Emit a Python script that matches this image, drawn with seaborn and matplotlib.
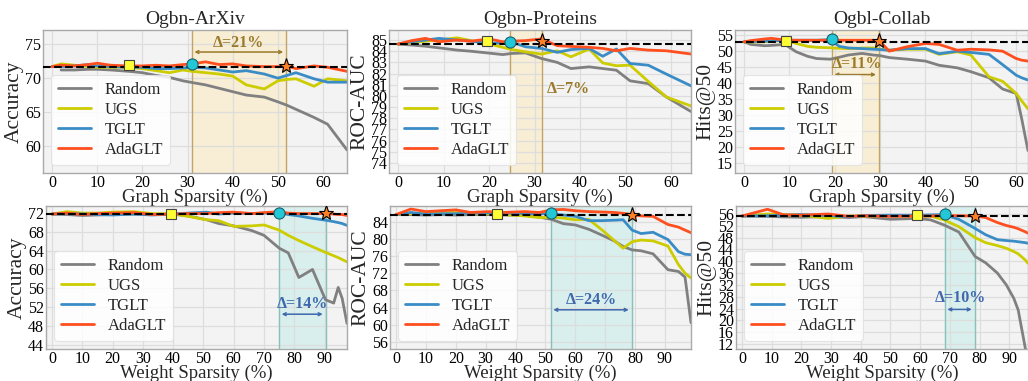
import numpy as np
import pandas as pd
import matplotlib
matplotlib.use('Agg')
import matplotlib.pyplot as plt
import seaborn as sns

methods = ['Random', 'UGS', 'TGLT', 'AdaGLT']
colors = ['#808080', '#cccc00', '#3a8cc6', '#ff4f1f']

titles = ['Ogbn-ArXiv', 'Ogbn-Proteins', 'Ogbl-Collab']
ylabels = ['Accuracy', 'ROC-AUC', 'Hits@50']

# --- graph sparsity (top row) ---
arxiv_gs_x = [0, 2, 5, 8, 10, 13, 17, 20, 23, 26, 29, 31, 34, 37, 40, 43, 47, 50, 52, 54, 58, 61, 65.3]
arxiv_gs_random = [np.nan, 71.2, 71.2, 71.3, 71.3, 71.2, 71.0, 70.8, 70.4, 70.1, 69.6, 69.35, 69.0, 68.5, 68.0, 67.5, 67.2, 66.5, 66.0, 65.4, 64.2, 63.2, 59.4]
arxiv_gs_ugs = [71.7, 72.1, 71.9, 71.7, 71.6, 71.6, 71.6, 71.4, 71.1, 70.8, 71.2, 71.0, 70.8, 70.6, 70.3, 69.0, 68.4, 69.6, 69.8, 69.9, 68.8, 69.9, 69.6]
arxiv_gs_tglt = [71.7, 71.7, 71.8, 72.0, 71.8, 71.7, 71.6, 71.6, 71.4, 71.4, 71.5, 71.6, 71.5, 71.2, 70.9, 71.1, 70.6, 70.0, 70.4, 70.8, 69.9, 69.4, 69.4]
arxiv_gs_ada = [71.7, 71.9, 71.8, 72.0, 72.2, 71.9, 71.8, 71.8, 71.9, 71.8, 72.0, 72.1, 72.4, 72.0, 72.1, 71.8, 71.7, 71.7, 71.8, 71.4, 71.8, 71.6, 71.0]
arxiv_gs_best_x = [17, 30.9, 51.8]
arxiv_gs_best_y = [72.0, 72.05, 71.8]

prot_gs_x = [0, 3, 6, 9, 13, 16, 20, 23, 25, 28, 31.5, 35, 38, 42, 45, 48, 51, 55, 59, 64.4]
prot_gs_random = [84.64, 84.55, 84.45, 84.3, 84.1, 84.0, 83.83, 83.7, 83.8, 83.85, 83.35, 83.0, 82.45, 82.6, 82.45, 82.3, 81.35, 81.1, 79.9, 78.6]
prot_gs_ugs = [84.64, 84.75, 84.9, 85.0, 85.2, 84.95, 84.65, 84.35, 84.15, 83.95, 83.74, 84.04, 83.5, 84.2, 82.95, 82.7, 82.75, 81.3, 79.9, 79.1]
prot_gs_tglt = [84.64, 84.85, 85.0, 85.15, 85.0, 84.9, 84.7, 84.75, 84.8, 84.4, 84.25, 83.9, 84.15, 84.25, 83.55, 84.2, 82.9, 82.75, 81.95, 80.9]
prot_gs_ada = [84.64, 84.95, 85.15, 84.85, 85.0, 84.9, 85.1, 84.85, 84.9, 84.95, 85.1, 84.5, 84.43, 84.35, 84.25, 84.04, 84.25, 84.1, 84.04, 83.75]
prot_gs_best_x = [19.6, 24.6, 31.7]
prot_gs_best_y = [84.88, 84.85, 84.88]

coll_gs_x = [0, 1.5, 4.5, 6, 9, 11.5, 14, 16, 19, 21, 23, 26, 28.5, 30, 32, 36, 40, 43, 47, 50, 54, 57, 60, 61.2, 62.6]
coll_gs_random = [52.9, 52.1, 51.7, 51.8, 52.1, 49.8, 48.4, 47.7, 47.5, 48.1, 48.8, 49.3, 48.8, 48.6, 48.0, 47.5, 46.9, 45.6, 44.8, 43.6, 41.7, 38.2, 36.8, 29.0, 19.0]
coll_gs_ugs = [52.9, 52.9, 52.9, 53.1, 53.4, 52.4, 51.5, 51.2, 51.05, 50.9, 50.8, 50.95, 51.0, 50.6, 50.3, 50.6, 50.6, 49.0, 49.8, 48.8, 42.0, 40.6, 36.8, 34.5, 32.0]
coll_gs_tglt = [52.9, 53.0, 53.1, 53.2, 53.4, 53.4, 53.4, 53.4, 53.6, 51.5, 51.0, 50.8, 50.6, 50.5, 50.3, 50.8, 50.8, 49.2, 50.0, 49.6, 49.0, 45.8, 42.5, 41.7, 41.0]
coll_gs_ada = [52.9, 53.3, 53.8, 54.0, 53.5, 53.4, 53.4, 53.4, 53.4, 53.4, 53.4, 53.4, 53.4, 53.0, 50.0, 51.4, 52.4, 52.1, 50.3, 50.6, 50.4, 50.0, 47.7, 47.2, 46.9]
coll_gs_best_x = [9.2, 19.3, 29.7]
coll_gs_best_y = [53.2, 53.75, 53.2]

# --- weight sparsity (bottom row) ---
arxiv_ws_x = [0, 5, 10, 15, 20, 27, 33, 40, 45, 51, 55, 60, 66, 70, 75, 78, 81.5, 86, 90.3, 93, 94.5, 95.8, 97.4]
arxiv_ws_random = [71.7, 71.6, 71.4, 71.5, 71.6, 71.7, 71.6, 71.7, 71.3, 70.5, 69.7, 69.2, 68.2, 67.2, 64.5, 63.5, 58.3, 60.0, 53.6, 52.9, 56.2, 53.9, 48.6]
arxiv_ws_ugs = [71.7, 72.2, 71.9, 71.9, 72.1, 72.2, 71.8, 71.7, 71.2, 70.5, 70.3, 69.1, 69.2, 69.4, 68.3, 67.2, 66.1, 64.8, 63.6, 62.9, 62.5, 62.1, 61.6]
arxiv_ws_tglt = [71.7, 71.8, 71.7, 71.6, 71.5, 71.7, 71.5, 71.7, 71.9, 72.1, 71.7, 71.9, 71.8, 71.9, 72.0, 71.6, 71.3, 70.8, 70.4, 70.1, 69.9, 69.7, 69.3]
arxiv_ws_ada = [71.7, 71.9, 71.6, 71.8, 71.9, 72.0, 71.6, 71.7, 71.8, 71.8, 72.0, 72.1, 71.8, 72.0, 72.2, 71.9, 71.8, 71.8, 71.8, 71.7, 71.6, 71.6, 71.4]
arxiv_ws_best_x = [39.4, 74.9, 90.3]
arxiv_ws_best_y = [71.7, 72.0, 71.9]

prot_ws_x = [0, 5, 10, 15, 20, 25, 31, 36, 43, 48, 52, 56, 60, 64.5, 69, 73, 76, 79, 82, 86, 91, 94.5, 96.7, 98.7]
prot_ws_random = [85.6, 85.6, 85.5, 85.6, 85.5, 85.6, 85.6, 85.5, 85.5, 85.0, 84.5, 83.5, 83.2, 82.2, 80.8, 79.5, 78.2, 77.4, 77.2, 76.5, 72.8, 72.4, 71.1, 60.5]
prot_ws_ugs = [85.6, 85.8, 85.9, 86.0, 86.1, 85.8, 85.8, 85.6, 85.3, 84.9, 85.0, 84.8, 84.4, 84.5, 82.0, 79.6, 77.8, 79.3, 79.7, 79.5, 78.3, 74.0, 72.0, 70.9]
prot_ws_tglt = [85.6, 86.1, 85.7, 85.8, 85.8, 85.9, 86.0, 86.0, 85.9, 85.8, 85.8, 85.5, 85.2, 84.2, 84.2, 84.3, 84.4, 82.0, 81.2, 81.5, 79.8, 77.0, 76.4, 76.3]
prot_ws_ada = [85.6, 86.9, 86.3, 86.5, 86.7, 86.1, 86.3, 86.1, 86.3, 86.1, 86.7, 86.8, 86.5, 86.3, 86.2, 86.1, 85.9, 85.6, 85.3, 85.2, 83.3, 82.7, 82.0, 81.4]
prot_ws_best_x = [33.7, 51.7, 78.8]
prot_ws_best_y = [85.8, 85.9, 85.6]

coll_ws_x = [0, 8.6, 14, 20, 29, 36, 41, 50, 59, 63.5, 68, 73, 78.5, 82, 86, 89, 91.5, 93, 95.3, 96.3]
coll_ws_random = [55.3, 55.2, 55.0, 54.9, 55.1, 54.8, 55.1, 54.2, 54.5, 54.0, 52.3, 49.9, 41.6, 39.5, 36.0, 32.0, 27.5, 23.5, 11.1, 5.0]
coll_ws_ugs = [55.3, 56.0, 55.8, 55.6, 54.5, 55.3, 55.3, 55.4, 55.3, 55.3, 54.0, 51.7, 48.0, 46.3, 45.3, 44.4, 43.3, 42.5, 40.5, 39.3]
coll_ws_tglt = [55.3, 55.4, 55.6, 55.8, 55.5, 55.0, 55.5, 55.6, 55.6, 55.7, 55.8, 54.2, 51.1, 49.0, 47.3, 47.0, 46.8, 46.6, 46.3, 46.1]
coll_ws_ada = [55.3, 57.6, 55.7, 55.6, 56.0, 55.2, 55.4, 55.2, 55.3, 55.3, 55.5, 55.4, 55.3, 54.8, 53.1, 52.1, 51.5, 51.0, 50.0, 49.5]
coll_ws_best_x = [58.9, 68.2, 78.3]
coll_ws_best_y = [55.7, 56.0, 55.3]

baselines = [71.7, 84.64, 52.9, 71.8, 85.6, 55.3]
delta_labels = ['Δ=21%', 'Δ=7%', 'Δ=11%', 'Δ=14%', 'Δ=24%', 'Δ=10%']

sns.set_theme(style='whitegrid', rc={
    'axes.facecolor': '#f3f3f3', 'grid.color': '#dddddd', 'axes.edgecolor': '#aaaaaa',
    'axes.linewidth': 1.0, 'grid.linewidth': 0.9})
plt.rcParams['font.family'] = ['Liberation Serif', 'DejaVu Serif']

fig = plt.figure(figsize=(10.28, 3.81), dpi=100)
W, H = 1028, 381

def px_axes(l, t, r, b):
    return fig.add_axes([l / W, 1 - b / H, (r - l) / W, (b - t) / H])

boxes = [(43, 30, 347, 173), (389, 30, 691, 173), (735, 30, 1028, 173),
         (46, 206, 347, 349), (390, 206, 691, 349), (736, 206, 1028, 349)]

panels = [
    (arxiv_gs_x, [arxiv_gs_random, arxiv_gs_ugs, arxiv_gs_tglt, arxiv_gs_ada], arxiv_gs_best_x, arxiv_gs_best_y),
    (prot_gs_x, [prot_gs_random, prot_gs_ugs, prot_gs_tglt, prot_gs_ada], prot_gs_best_x, prot_gs_best_y),
    (coll_gs_x, [coll_gs_random, coll_gs_ugs, coll_gs_tglt, coll_gs_ada], coll_gs_best_x, coll_gs_best_y),
    (arxiv_ws_x, [arxiv_ws_random, arxiv_ws_ugs, arxiv_ws_tglt, arxiv_ws_ada], arxiv_ws_best_x, arxiv_ws_best_y),
    (prot_ws_x, [prot_ws_random, prot_ws_ugs, prot_ws_tglt, prot_ws_ada], prot_ws_best_x, prot_ws_best_y),
    (coll_ws_x, [coll_ws_random, coll_ws_ugs, coll_ws_tglt, coll_ws_ada], coll_ws_best_x, coll_ws_best_y),
]

ylims = [(56, 77.1), (73.1, 85.9), (12, 56.6), (43.2, 73.4), (54.4, 87.6), (10.3, 58.7)]
yticks = [np.arange(60, 76, 5), np.arange(74, 86, 1), np.arange(15, 56, 5),
          np.arange(44, 73, 4), np.arange(56, 85, 4), np.arange(12, 57, 4)]
# label placement: (text x, text y, arrow y or None, ha)
label_pos = [(41.3, 75.2, 73.85, 'center'), (32.6, 80.6, None, 'left'), (24.8, 45.9, 42.7, 'center'),
             (82.6, 52.7, 50.55, 'center'), (65.5, 65.8, 63.5, 'center'), (73.5, 27.5, 23.7, 'center')]

for i, (x, series, bx, by) in enumerate(panels):
    ax = px_axes(*boxes[i])
    top = i < 3
    df = pd.DataFrame({'x': x})
    for m, s in zip(methods, series):
        df[m] = s
    long = df.melt(id_vars='x', var_name='method', value_name='y').dropna()
    sns.lineplot(data=long, x='x', y='y', hue='method', hue_order=methods,
                 palette=colors, linewidth=2, estimator=None, sort=False, ax=ax)

    ax.axhline(baselines[i], color='black', linestyle='--', linewidth=1.5, zorder=4)

    span_fc = '#f8eed6' if top else '#d8efed'
    span_ec = '#c2a466' if top else '#8bbfba'
    txt_c = '#9a7a2a' if top else '#3f68ad'
    ax.axvspan(bx[1], bx[2], color=span_fc, zorder=0.5)
    ax.axvline(bx[1], color=span_ec, lw=1.0, zorder=0.6)
    ax.axvline(bx[2], color=span_ec, lw=1.0, zorder=0.6)

    ax.plot(bx[0], by[0], marker='s', ms=7, mfc='#ffff33', mec='#444444', mew=0.8, zorder=6, ls='none')
    ax.plot(bx[1], by[1], marker='o', ms=8, mfc='#22c8d6', mec='#1b5f6e', mew=0.8, zorder=6, ls='none')
    ax.plot(bx[2], by[2], marker='*', ms=11, mfc='#ff7f27', mec='black', mew=0.8, zorder=6, ls='none')

    tx, ty, ay, ha = label_pos[i]
    ax.text(tx, ty, delta_labels[i], color=txt_c, fontsize=11.5, fontweight='bold', ha=ha, va='center', zorder=7)
    if ay is not None:
        ax.annotate('', xy=(bx[1], ay), xytext=(bx[2], ay),
                    arrowprops=dict(arrowstyle='<->', color=txt_c, lw=1.1, mutation_scale=5), zorder=7)

    ax.set_xlim(-2, x[-1])
    ax.set_ylim(*ylims[i])
    ax.set_yticks(yticks[i])
    ax.set_xticks(np.arange(0, 61 if top else 91, 10))
    ax.tick_params(axis='both', length=0, pad=1.5, labelsize=11.5, colors='black')
    ax.set_ylabel(ylabels[i % 3], fontsize=15.5, labelpad=1)
    ax.set_xlabel('Graph Sparsity (%)' if top else 'Weight Sparsity (%)', fontsize=13.5, labelpad=-1.5)
    if top:
        ax.set_title(titles[i], fontsize=14, pad=4)

    leg = ax.legend(loc='lower left', fontsize=12, handlelength=2.0, labelspacing=0.25,
                    borderpad=0.4, frameon=True, framealpha=0.85, facecolor='white', edgecolor='#e0e0e0')
    leg.get_frame().set_linewidth(0.8)
    leg.set_zorder(8)

fig.savefig('out.png', dpi=100)
